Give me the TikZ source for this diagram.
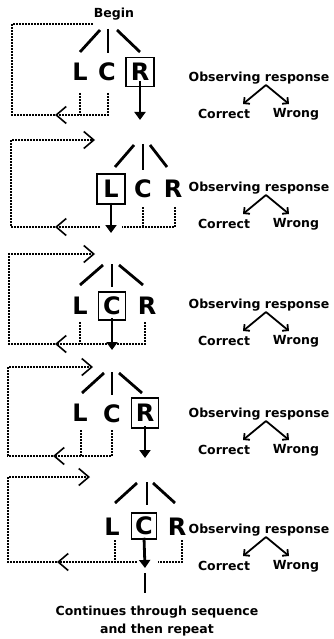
\documentclass[tikz,border=0pt]{standalone}
\usepackage{fontspec}
\setmainfont{DejaVu Sans}
\usetikzlibrary{arrows.meta}
\begin{document}
\begin{tikzpicture}[x=1pt,y=-1pt,
  lbl/.style={font=\bfseries\fontsize{12.5}{14}\selectfont, inner sep=0pt},
  letter/.style={font=\bfseries\fontsize{24}{26}\selectfont, inner sep=0pt},
  chosen/.style={letter, draw, line width=1.5pt, minimum width=28pt, minimum height=29pt},
  branch/.style={line width=2.8pt},
  loopline/.style={line width=1.6pt, dash pattern=on 2pt off 1pt},
  backtip/.style={-{Straight Barb[length=10pt,width=17pt]}},
  choice/.style={line width=2.8pt, -{Triangle[length=8pt,width=11pt]}},
  obs/.style={line width=1.8pt, -{Straight Barb[angle=90:6pt]}}
]
\useasboundingbox (0,0) rectangle (334,639);

% ---------- trial 1 ----------
\node[lbl] (begin) at (114,14) {Begin};
\draw[branch] (100,30) -- (80,52);
\draw[branch] (108,29) -- (108,53);
\draw[branch] (117,30) -- (140,52);
\node[letter] (L1) at (80,72) {L};
\node[letter] (C1) at (107,72) {C};
\node[chosen] (R1) at (140,72) {R};
\coordinate (a1) at (140,120);
\draw[choice] ([yshift=6]R1.south) -- (a1);
\coordinate (l1t) at (80,93); \coordinate (l1b) at (80,115);
\coordinate (c1t) at (108,93); \coordinate (c1b) at (108,115);
\coordinate (k1) at (55,115); \coordinate (p1) at (12,115); \coordinate (q1) at (12,24);
\coordinate (e1) at (93,24);
\draw[loopline] (l1t) -- (l1b);
\draw[loopline, backtip] (c1t) -- (c1b) -- (k1);
\draw[loopline] (k1) -- (p1) -- (q1) -- (e1);

% ---------- trial 2 ----------
\draw[branch] (134,145) -- (115,167);
\draw[branch] (143,144) -- (143,170);
\draw[branch] (150,145) -- (167,167);
\node[chosen, minimum height=30pt] (L2) at (111,189) {L};
\node[letter] (C2) at (143,189) {C};
\node[letter] (R2) at (173,189) {R};
\coordinate (a2) at (111,233);
\draw[choice] ([yshift=2]L2.south) -- (a2);
\coordinate (c2t) at (143,207); \coordinate (c2b) at (143,227);
\coordinate (r2t) at (175,207); \coordinate (r2b) at (175,227);
\coordinate (g2r) at (122,227); \coordinate (g2l) at (100,227);
\coordinate (k2) at (55,227); \coordinate (p2) at (11,227); \coordinate (q2) at (11,140);
\coordinate (e2) at (95,140);
\draw[loopline] (c2t) -- (c2b);
\draw[loopline] (r2t) -- (r2b) -- (g2r);
\draw[loopline, backtip] (g2l) -- (k2);
\draw[loopline, backtip] (k2) -- (p2) -- (q2) -- (e2);

% ---------- trial 3 ----------
\draw[branch] (103,265) -- (80,285);
\draw[branch] (112,264) -- (112,287);
\draw[branch] (119,265) -- (143,285);
\node[letter] (L3) at (80,306) {L};
\node[chosen, minimum width=27pt, minimum height=28pt] (C3) at (112,306) {C};
\node[letter] (R3) at (147,306) {R};
\coordinate (a3) at (112,350);
\draw[choice] ([yshift=3]C3.south) -- (a3);
\coordinate (l3t) at (80,322); \coordinate (l3b) at (80,344);
\coordinate (r3t) at (145,322); \coordinate (r3b) at (145,344);
\coordinate (k3) at (55,344); \coordinate (p3) at (9,344); \coordinate (q3) at (9,254);
\coordinate (e3) at (95,254);
\draw[loopline] (l3t) -- (l3b);
\draw[loopline, backtip] (r3t) -- (r3b) -- (k3);
\draw[loopline, backtip] (k3) -- (p3) -- (q3) -- (e3);

% ---------- trial 4 ----------
\draw[branch] (104,373) -- (82,393);
\draw[branch] (112,372) -- (112,395);
\draw[branch] (119,373) -- (142,393);
\node[letter] (L4) at (80,413) {L};
\node[letter] (C4) at (112,414) {C};
\node[chosen, minimum width=27pt, minimum height=30pt] (R4) at (145,413) {R};
\coordinate (a4) at (145,458);
\draw[choice] ([yshift=3]R4.south) -- (a4);
\coordinate (l4t) at (81,430); \coordinate (l4b) at (81,456);
\coordinate (c4t) at (112,430); \coordinate (c4b) at (112,456);
\coordinate (k4) at (53,456); \coordinate (p4) at (8,456); \coordinate (q4) at (8,367);
\coordinate (e4) at (93,367);
\draw[loopline] (l4t) -- (l4b);
\draw[loopline, backtip] (c4t) -- (c4b) -- (k4);
\draw[loopline, backtip] (k4) -- (p4) -- (q4) -- (e4);

% ---------- trial 5 ----------
\draw[branch] (137,483) -- (115,503);
\draw[branch] (147,482) -- (147,505);
\draw[branch] (153,483) -- (175,503);
\node[letter] (L5) at (112,527) {L};
\node[chosen, minimum width=25pt, minimum height=26pt] (C5) at (144,526) {C};
\node[letter] (R5) at (177,527) {R};
\coordinate (a5) at (145,568);
\draw[choice] ([yshift=2]C5.south) -- (a5);
\coordinate (n5t) at (145,573); \coordinate (n5b) at (145,593);
\draw[branch] (n5t) -- (n5b);
\coordinate (l5t) at (115,540); \coordinate (l5b) at (115,562);
\coordinate (r5t) at (182,540); \coordinate (r5b) at (182,562);
\coordinate (g5r) at (158,562); \coordinate (g5l) at (137,562);
\coordinate (k5) at (57,562); \coordinate (p5) at (8,562); \coordinate (q5) at (8,477);
\coordinate (e5) at (90,477);
\draw[loopline] (l5t) -- (l5b);
\draw[loopline] (r5t) -- (r5b) -- (g5r);
\draw[loopline, backtip] (g5l) -- (k5);
\draw[loopline, backtip] (k5) -- (p5) -- (q5) -- (e5);

\node[lbl] (cont1) at (157,612) {Continues through sequence};
\node[lbl] (cont2) at (157,630) {and then repeat};

% ---------- observing response, one per trial ----------
\foreach \i/\t in {1/78, 2/188, 3/305, 4/414, 5/530} {
  \node[lbl] (obs\i) at (259,\t) {Observing response};
  \coordinate (top\i) at (266,\t+7);
  \coordinate (ca\i) at (243,\t+26);
  \coordinate (wa\i) at (289,\t+26);
  \node[lbl] (cor\i) at (224,\t+36) {Correct};
  \node[lbl] (wr\i) at (296,\t+36) {Wrong};
  \draw[obs] (top\i) -- (ca\i);
  \draw[obs] (top\i) -- (wa\i);
}
\end{tikzpicture}
\end{document}
